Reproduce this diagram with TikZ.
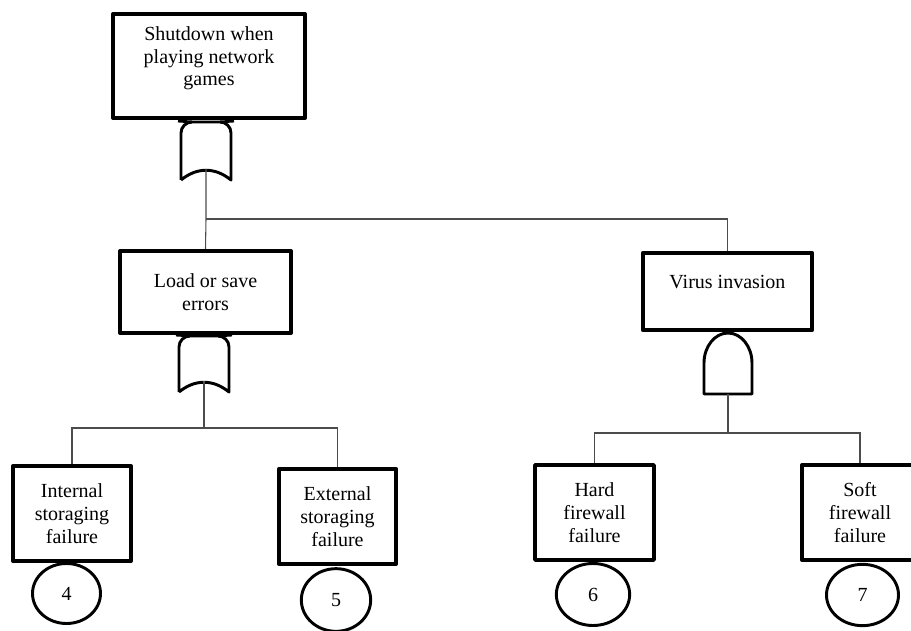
\documentclass[tikz,border=0pt]{standalone}
\usepackage{fontspec}
\setmainfont{Liberation Serif}
\usetikzlibrary{shapes.geometric}
\tikzset{
  event/.style={draw, line width=3pt, line join=round, inner sep=0pt, align=center,
    font=\fontsize{15}{17}\selectfont},
  basic/.style={draw, ellipse, line width=2.2pt, inner sep=0pt,
    font=\fontsize{15}{17}\selectfont},
  gate/.style={draw, line width=2.2pt, line join=round},
  wire/.style={draw, black!70, line width=0.8pt}
}
\begin{document}
\begin{tikzpicture}[x=0.75pt,y=-0.75pt]
\useasboundingbox (0,0) rectangle (911,631);
% events
\node [event, minimum width=144pt, minimum height=78pt, text height=43pt, text depth=13pt] (top) at (209,66) {Shutdown when\\playing network\\games};
\node [event, minimum width=128pt, minimum height=61.5pt] (load) at (205.5,292) {Load or save\\errors};
\node [event, minimum width=127pt, minimum height=58pt, text height=10pt, text depth=15pt] (virus) at (727.5,291.5) {Virus invasion};
\node [event, minimum width=88.5pt, minimum height=71pt] (internal) at (72,513.5) {Internal\\storaging\\failure};
\node [event, minimum width=88pt, minimum height=71pt] (external) at (337.5,516.5) {External\\storaging\\failure};
\node [event, minimum width=89pt, minimum height=71pt] (hard) at (594.5,512.5) {Hard\\firewall\\failure};
\node [event, minimum width=87pt, minimum height=71pt] (soft) at (860,512.5) {Soft\\firewall\\failure};
% basic events
\node [basic, minimum width=51pt, minimum height=45pt] (b4) at (66.5,593.5) {4};
\node [basic, minimum width=52pt, minimum height=47pt] (b5) at (336,600) {5};
\node [basic, minimum width=55pt, minimum height=46.5pt] (b6) at (593,594.5) {6};
\node [basic, minimum width=54pt, minimum height=46pt] (b7) at (862.5,595) {7};
% or gates
\draw [gate, shift={(206,121)}] (-25,59) -- (-25,12) to[out=90,in=180] (-14,1) -- (14,1) to[out=0,in=90] (25,12) -- (25,59) .. controls (9,46) and (-9,46) .. (-25,59);
\draw [gate, shift={(206,121)}] (-14,1) to[out=180,in=0] (-28,0) (14,1) to[out=0,in=180] (28,0);
\coordinate (g1) at (206,169);
\draw [gate, shift={(204,335)}] (-25,57) -- (-25,12) to[out=90,in=180] (-14,1) -- (14,1) to[out=0,in=90] (25,12) -- (25,57) .. controls (9,44) and (-9,44) .. (-25,57);
\draw [gate, shift={(204,335)}] (-14,1) to[out=180,in=0] (-28,0) (14,1) to[out=0,in=180] (28,0);
\coordinate (g2) at (204,381);
% and gate
\draw [gate, shift={(728,333)}] (-24,61) -- (-24,30) .. controls (-24,13.5) and (-13.2,0) .. (0,0) .. controls (13.2,0) and (24,13.5) .. (24,30) -- (24,61) -- cycle;
\coordinate (g3) at (728,394);
% connectors
\coordinate (j1) at (206,219);
\coordinate (j2) at (204,428);
\coordinate (j3) at (728,433);
\draw [wire] (g1) -- (j1) -- (load.north);
\draw [wire] (j1) -| (virus.north);
\draw [wire] (g2) -- (j2);
\draw [wire] (internal.north) |- (j2) -| (external.north);
\draw [wire] (g3) -- (j3);
\draw [wire] (hard.north) |- (j3) -| (soft.north);
\end{tikzpicture}
\end{document}
